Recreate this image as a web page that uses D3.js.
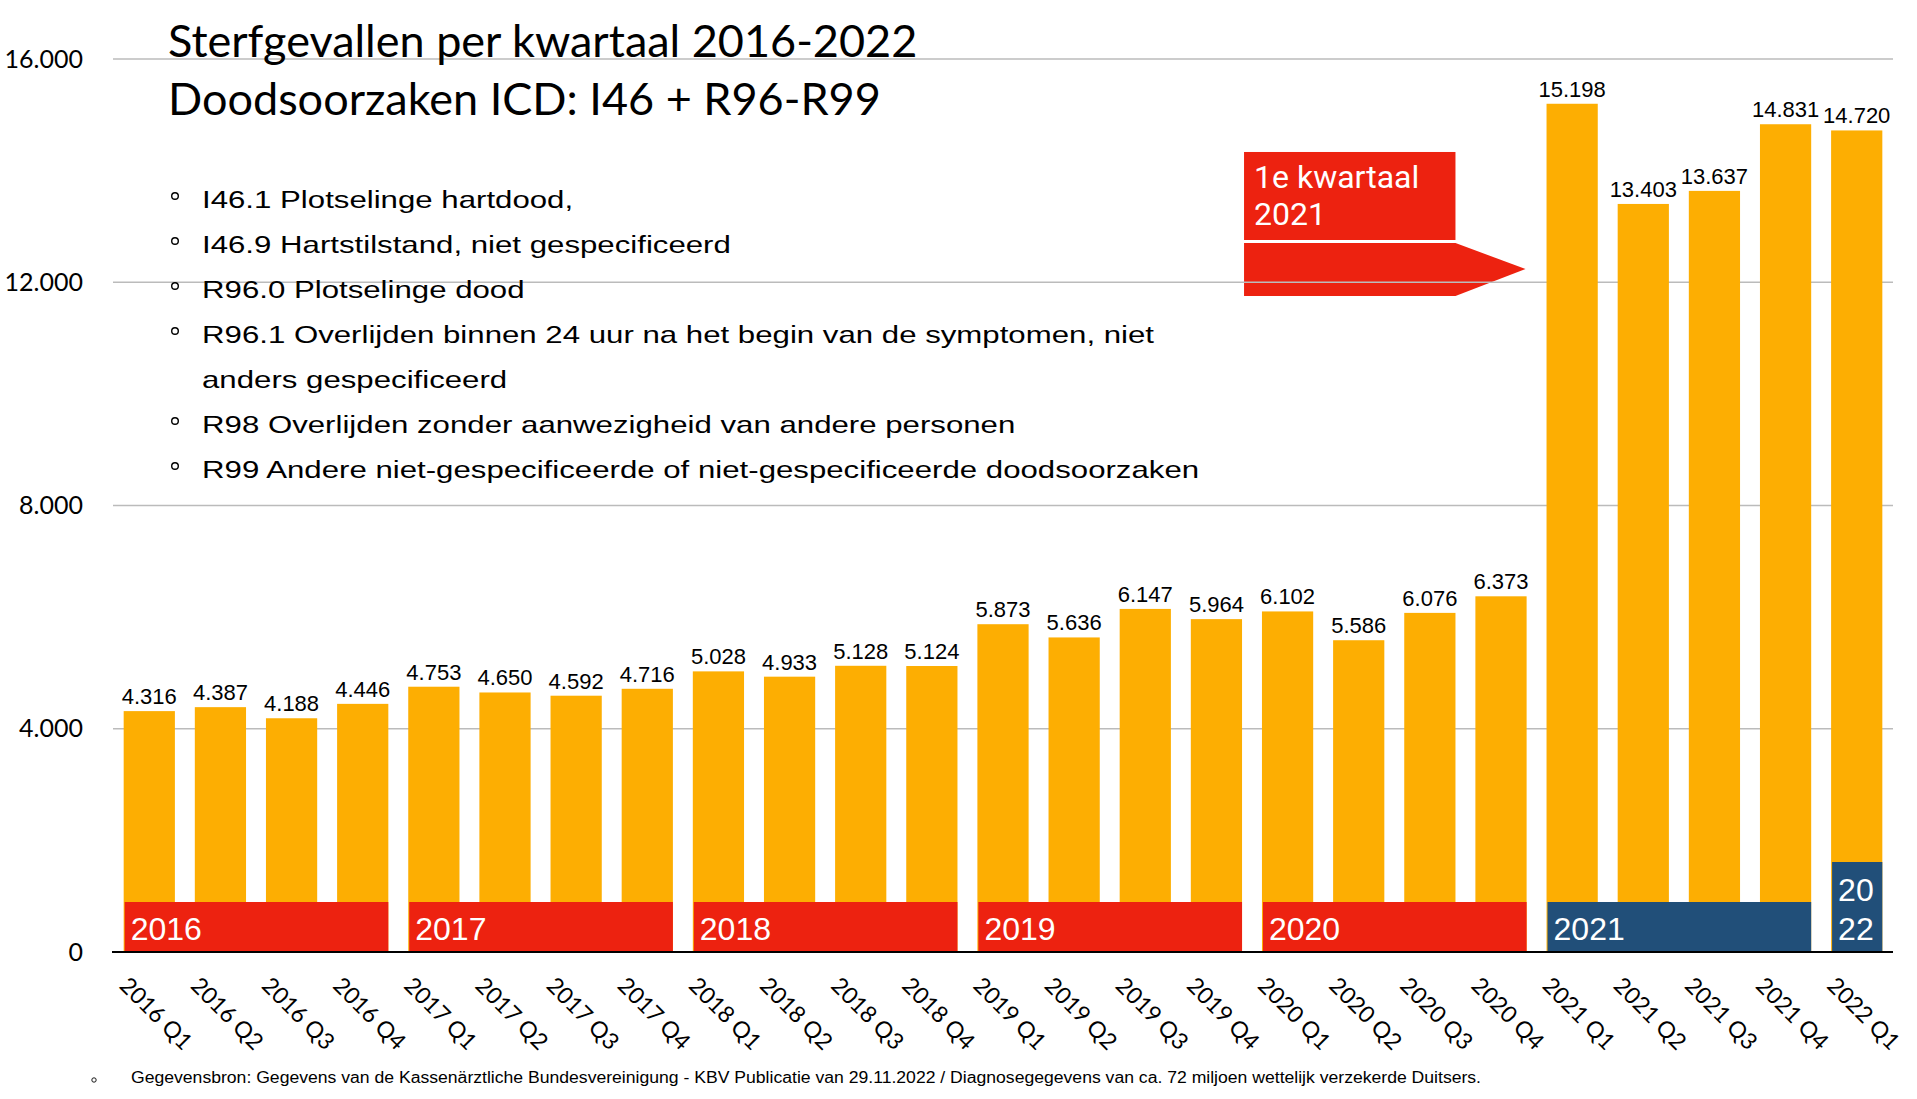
<!DOCTYPE html>
<html>
<head>
<meta charset="utf-8">
<script src="https://cdn.jsdelivr.net/npm/d3@7"></script>
<style>
  html, body { margin: 0; padding: 0; background: #fff; }
  svg { display: block; }
</style>
</head>
<body>
<svg id="chart" width="1917" height="1099"></svg>
<script>
// ---------- data ----------
const quarters = [
  "2016 Q1","2016 Q2","2016 Q3","2016 Q4",
  "2017 Q1","2017 Q2","2017 Q3","2017 Q4",
  "2018 Q1","2018 Q2","2018 Q3","2018 Q4",
  "2019 Q1","2019 Q2","2019 Q3","2019 Q4",
  "2020 Q1","2020 Q2","2020 Q3","2020 Q4",
  "2021 Q1","2021 Q2","2021 Q3","2021 Q4",
  "2022 Q1"
];
const deaths = [
  4316, 4387, 4188, 4446,
  4753, 4650, 4592, 4716,
  5028, 4933, 5128, 5124,
  5873, 5636, 6147, 5964,
  6102, 5586, 6076, 6373,
  15198, 13403, 13637, 14831,
  14720
];
const yTicks = [0, 4000, 8000, 12000, 16000];
const yearGroups = ["2016", "2017", "2018", "2019", "2020", "2021", "2022"];
const yearLabelLines = [["2016"], ["2017"], ["2018"], ["2019"], ["2020"], ["2021"], ["20", "22"]];
const yearColors = ["red", "red", "red", "red", "red", "blue", "blue"];

const titleLines = ["Sterfgevallen per kwartaal 2016-2022", "Doodsoorzaken ICD: I46 + R96-R99"];
const bulletLines = [
  { text: "I46.1 Plotselinge hartdood,", bullet: true },
  { text: "I46.9 Hartstilstand, niet gespecificeerd", bullet: true },
  { text: "R96.0 Plotselinge dood", bullet: true },
  { text: "R96.1 Overlijden binnen 24 uur na het begin van de symptomen, niet", bullet: true },
  { text: "anders gespecificeerd", bullet: false },
  { text: "R98 Overlijden zonder aanwezigheid van andere personen", bullet: true },
  { text: "R99 Andere niet-gespecificeerde of niet-gespecificeerde doodsoorzaken", bullet: true }
];
const calloutLines = ["1e kwartaal", "2021"];
const sourceText = "Gegevensbron: Gegevens van de Kassenärztliche Bundesvereinigung - KBV Publicatie van 29.11.2022 / Diagnosegegevens van ca. 72 miljoen wettelijk verzekerde Duitsers.";

// ---------- setup ----------
const COL = { bar: "#FDAE02", red: "#ED2210", blue: "#214F79", grid: "#BBBBBB" };
const locale = d3.formatLocale({ decimal: ",", thousands: ".", grouping: [3], currency: ["€", ""] });
const fmt = locale.format(",d");

const svg = d3.select("#chart");
const x = d3.scaleBand().domain(quarters).range([113, 1893]).paddingInner(0.28).paddingOuter(0.15);
const y = d3.scaleLinear().domain([0, 16000]).range([952, 59]);
const bw = x.bandwidth();

// ---------- callout (behind grid) ----------
const cx0 = x("2019 Q4") + bw + 2;   // left edge
const cx1 = x("2020 Q3") + bw;       // right edge of box
const tipX = x("2021 Q1") - 21;      // arrow tip
const boxTop = y(14334), boxBot = y(12757);
svg.append("rect")
  .attr("x", cx0).attr("y", boxTop)
  .attr("width", cx1 - cx0).attr("height", boxBot - boxTop)
  .attr("fill", COL.red);
const aTop = y(12703), aMid = y(12237), aBot = y(11754);
svg.append("polygon")
  .attr("points", [[cx0, aTop], [cx1, aTop], [tipX, aMid], [cx1, aBot], [cx0, aBot]].map(p => p.join(",")).join(" "))
  .attr("fill", COL.red);
svg.append("g").selectAll("text").data(calloutLines).join("text")
  .attr("x", cx0 + 10)
  .attr("y", (d, i) => boxTop + 36 + i * 37)
  .attr("font-family", "Roboto, sans-serif")
  .attr("font-size", 32)
  .attr("fill", "#fff")
  .text(d => d);

// ---------- gridlines ----------
svg.append("g").selectAll("line").data(yTicks.filter(t => t > 0)).join("line")
  .attr("x1", 113).attr("x2", 1893)
  .attr("y1", d => y(d)).attr("y2", d => y(d))
  .attr("stroke", COL.grid).attr("stroke-width", 1.5);

// ---------- bars ----------
svg.append("g").selectAll("rect").data(quarters).join("rect")
  .attr("x", d => x(d))
  .attr("y", (d, i) => y(deaths[i]))
  .attr("width", bw)
  .attr("height", (d, i) => y(0) - y(deaths[i]))
  .attr("fill", COL.bar);

// ---------- value labels ----------
svg.append("g").selectAll("text").data(quarters).join("text")
  .attr("x", d => x(d) + bw / 2)
  .attr("y", (d, i) => y(deaths[i]) - 7)
  .attr("text-anchor", "middle")
  .attr("font-family", "'Liberation Sans', Arial, sans-serif")
  .attr("font-size", 22)
  .attr("fill", "#000")
  .text((d, i) => fmt(deaths[i]));

// ---------- year bands ----------
const yb = svg.append("g");
yearGroups.forEach((yr, gi) => {
  const qs = quarters.filter(q => q.startsWith(yr));
  const x0 = x(qs[0]) + 1;
  const x1 = x(qs[qs.length - 1]) + bw;
  const lines = yearLabelLines[gi];
  const h = lines.length === 1 ? 50 : 90;
  yb.append("rect")
    .attr("x", x0).attr("y", y(0) - h)
    .attr("width", x1 - x0).attr("height", h)
    .attr("fill", yearColors[gi] === "red" ? COL.red : COL.blue);
  yb.selectAll(null).data(lines).join("text")
    .attr("x", x0 + 6)
    .attr("y", (d, i) => y(0) - 12 - (lines.length - 1 - i) * 39)
    .attr("font-family", "'Liberation Sans', Arial, sans-serif")
    .attr("font-size", 32)
    .attr("fill", "#fff")
    .text(d => d);
});

// ---------- baseline ----------
svg.append("line")
  .attr("x1", 112).attr("x2", 1893)
  .attr("y1", y(0)).attr("y2", y(0))
  .attr("stroke", "#000").attr("stroke-width", 2.2);

// ---------- axes ----------
const xAxis = svg.append("g")
  .attr("transform", `translate(0,${y(0)})`)
  .call(d3.axisBottom(x).tickSize(0));
xAxis.select(".domain").remove();
xAxis.selectAll("text")
  .attr("x", 0).attr("y", 0).attr("dy", 0)
  .attr("transform", "translate(-31,35) rotate(45)")
  .attr("text-anchor", "start")
  .attr("font-family", "Lato, sans-serif")
  .attr("font-size", 23)
  .attr("fill", "#000");

const yAxis = svg.append("g")
  .attr("transform", "translate(113,0)")
  .call(d3.axisLeft(y).tickValues(yTicks).tickSize(0).tickPadding(30).tickFormat(fmt));
yAxis.select(".domain").remove();
yAxis.selectAll("text")
  .attr("font-family", "Lato, sans-serif")
  .attr("font-size", 25)
  .attr("fill", "#000");

// ---------- title ----------
svg.append("g").selectAll("text").data(titleLines).join("text")
  .attr("x", 168)
  .attr("y", (d, i) => 57 + i * 58)
  .attr("font-family", "Lato, sans-serif")
  .attr("font-size", 45)
  .attr("fill", "#000")
  .text(d => d);

// ---------- bullet list ----------
const bl = svg.append("g");
bl.selectAll("circle").data(bulletLines.map((d, i) => ({ ...d, i })).filter(d => d.bullet)).join("circle")
  .attr("cx", 175).attr("cy", d => 208 + d.i * 45 - 12)
  .attr("r", 3.3)
  .attr("fill", "none").attr("stroke", "#000").attr("stroke-width", 1.4);
bl.append("g").attr("transform", "translate(202,0) scale(1.30,1)")
  .selectAll("text").data(bulletLines).join("text")
  .attr("x", 0)
  .attr("y", (d, i) => 208 + i * 45)
  .attr("font-family", "'Liberation Sans', Arial, sans-serif")
  .attr("font-size", 24)
  .attr("fill", "#000")
  .text(d => d.text);

// ---------- source ----------
svg.append("circle").attr("cx", 94).attr("cy", 1080).attr("r", 2.2)
  .attr("fill", "none").attr("stroke", "#000").attr("stroke-width", 0.9);
svg.append("text")
  .attr("x", 131).attr("y", 1083)
  .attr("font-family", "'Liberation Sans', Arial, sans-serif")
  .attr("font-size", 16)
  .attr("textLength", 1350).attr("lengthAdjust", "spacingAndGlyphs")
  .attr("fill", "#000")
  .text(sourceText);
</script>
</body>
</html>
